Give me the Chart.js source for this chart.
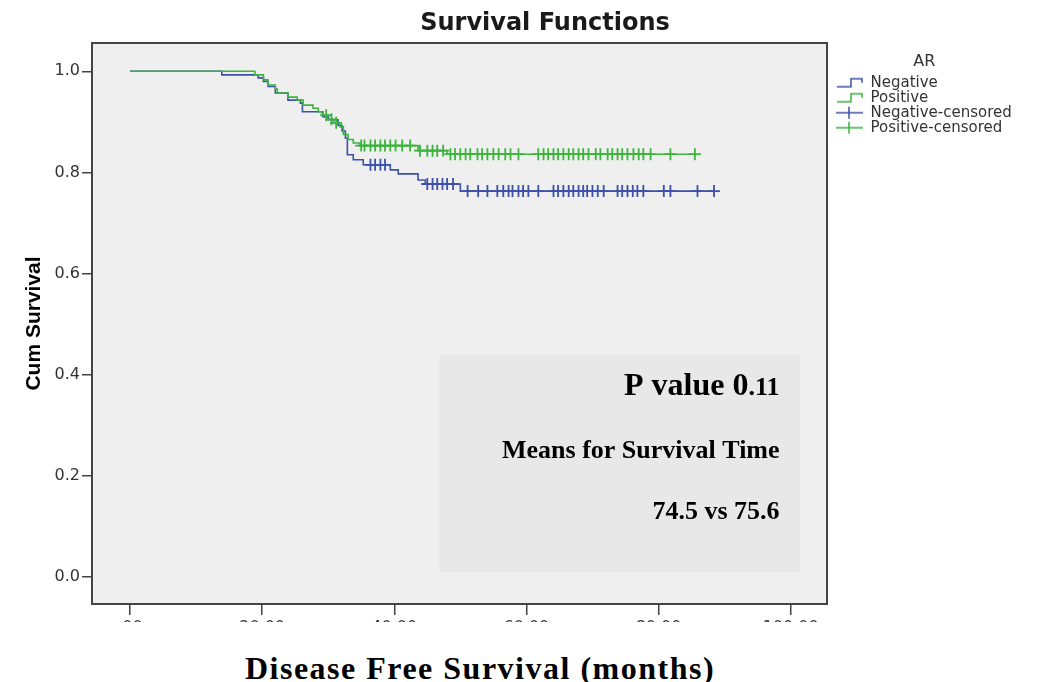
<!DOCTYPE html>
<html>
<head>
<meta charset="utf-8">
<title>Survival Functions</title>
<script src="https://cdn.jsdelivr.net/npm/chart.js@4.4.1/dist/chart.umd.min.js"></script>
<style>
  body { margin: 0; background: #fff; }
  #page { position: relative; width: 1041px; height: 682px; overflow: hidden; }
  #clip { position: absolute; left: 0; top: 0; width: 1041px; height: 622px; overflow: hidden; }
  #survivalChart { display: block; }
  #xtitle {
    position: absolute; left: 0; top: 650px; width: 960px;
    text-align: center; line-height: 34px; color: #000;
    font: bold 32px 'Liberation Serif', 'Times New Roman', serif;
    letter-spacing: 1.5px;
  }
</style>
</head>
<body>
<div id="page">
  <div id="clip"><canvas id="survivalChart" width="1041" height="682"></canvas></div>
  <div id="xtitle">Disease Free Survival (months)</div>
</div>
<script>
// Kaplan-Meier steps (time in months, cumulative survival)
const negTime = [0, 13.9, 19.4, 20.2, 20.9, 22.0, 23.9, 25.8, 26.1, 29.2, 30.0, 31.5, 32.1, 32.6, 32.9, 33.8, 35.3, 39.4, 40.6, 43.6, 44.7, 50.0, 88.4];
const negSurv = [1.0, 0.993, 0.987, 0.980, 0.970, 0.957, 0.943, 0.937, 0.920, 0.910, 0.904, 0.893, 0.882, 0.868, 0.835, 0.825, 0.815, 0.805, 0.797, 0.785, 0.777, 0.763, 0.763];

const posTime = [0, 18.9, 20.2, 20.9, 22.0, 22.3, 23.9, 25.3, 26.2, 27.7, 28.5, 29.1, 29.8, 30.8, 31.8, 32.3, 33.0, 33.8, 34.8, 43.6, 48.0, 85.5];
const posSurv = [1.0, 0.993, 0.983, 0.973, 0.965, 0.957, 0.949, 0.943, 0.933, 0.927, 0.920, 0.913, 0.905, 0.898, 0.890, 0.875, 0.865, 0.858, 0.853, 0.843, 0.836, 0.836];

// censored cases (times of the + marks)
const negCensTime = [36.4, 37.1, 37.9, 38.6, 45.0, 45.8, 46.5, 47.3, 48.0, 48.9, 51.1, 52.7, 54.1, 55.6, 56.5, 57.3, 57.9, 58.8, 59.5, 60.3, 61.8,
  64.1, 64.8, 65.6, 66.4, 67.1, 67.9, 68.6, 69.2, 70.0, 70.8, 71.7, 73.8, 74.5, 75.3, 76.1, 76.8, 77.7, 80.8, 81.8, 85.9, 88.4];
const posCensTime = [29.7, 30.5, 31.2, 35.0, 35.5, 36.4, 37.1, 37.9, 38.6, 39.4, 40.2, 41.2, 42.4, 43.9, 45.0, 45.8, 46.5, 47.4, 48.5, 49.2,
  50.0, 50.8, 51.5, 52.6, 53.3, 54.1, 55.0, 55.8, 56.8, 57.6, 58.8, 61.8, 62.6, 63.3, 64.1, 64.8, 65.6, 66.4, 67.1, 67.9, 68.6, 69.4,
  70.5, 71.2, 72.3, 73.0, 73.8, 74.5, 75.3, 76.2, 77.0, 77.7, 78.8, 81.8, 85.5];

const seriesNames = ['Negative', 'Positive', 'Negative-censored', 'Positive-censored'];
const legendTitle = 'AR';
const xTicks = [0, 20, 40, 60, 80, 100];
const xTickLabels = ['.00', '20.00', '40.00', '60.00', '80.00', '100.00'];
const yTicks = [0, 0.2, 0.4, 0.6, 0.8, 1.0];
const yTickLabels = ['0.0', '0.2', '0.4', '0.6', '0.8', '1.0'];
const chartTitle = 'Survival Functions';
const yTitle = 'Cum Survival';
const pLabel = 'P value 0';
const pDigits = '.11';
const meansLabel = 'Means for Survival Time';
const meansValues = '74.5 vs 75.6';

// note box corners in axis units
const noteBox = { xMin: 46.8, xMax: 101.5, yMin: 0.009, yMax: 0.439 };

const blue = '#3c51a7';
const green = '#3cb43c';
const legendFont = "'DejaVu Sans', sans-serif";
const legendSize = 15;
const iconWidth = 36;
const plotRight = 827;

function curvePoints(times, surv) {
    return times.map((t, i) => ({ x: t, y: surv[i] }));
}

// a censor mark sits on the curve level at its time
function levelAt(times, surv, t) {
    let s = surv[0];
    for (let i = 0; i < times.length; i++) {
        if (times[i] <= t) s = surv[i];
    }
    return s;
}

function censorPoints(cens, times, surv) {
    return cens.map(t => ({ x: t, y: levelAt(times, surv, t) }));
}

function stepIcon(color) {
    const c = document.createElement('canvas');
    c.width = iconWidth; c.height = 14;
    const g = c.getContext('2d');
    g.strokeStyle = color; g.lineWidth = 1.5;
    g.beginPath();
    g.moveTo(10, 11); g.lineTo(24, 11); g.lineTo(24, 3); g.lineTo(35, 3); g.lineTo(35, 7);
    g.stroke();
    return c;
}

function censorIcon(color) {
    const c = document.createElement('canvas');
    c.width = iconWidth; c.height = 14;
    const g = c.getContext('2d');
    g.strokeStyle = color; g.lineWidth = 1.5;
    g.beginPath();
    g.moveTo(9, 7); g.lineTo(36, 7);
    g.moveTo(22, 1); g.lineTo(22, 13);
    g.stroke();
    return c;
}

const legendIcons = [stepIcon(blue), stepIcon(green), censorIcon(blue), censorIcon(green)];

// legend width, so the plot panel ends where it does in the picture
// (Chart.js adds 10px of its own to a right-hand legend box)
const measure = document.createElement('canvas').getContext('2d');
measure.font = legendSize + 'px ' + legendFont;
const longest = Math.max(...seriesNames.map(n => measure.measureText(n).width));
const legendWidth = iconWidth + legendSize / 2 + longest + 10;
const rightPad = Math.max(0, 1041 - plotRight - legendWidth);

// grey plot panel, note box, frame and the free texts
const plotFrame = {
    id: 'plotFrame',
    beforeDraw(chart) {
        const { ctx, chartArea: a, scales: { x, y } } = chart;
        ctx.save();
        ctx.fillStyle = '#fff';
        ctx.fillRect(0, 0, chart.width, chart.height);
        ctx.fillStyle = '#efefef';
        ctx.fillRect(a.left, a.top, a.width, a.height);
        const bx0 = x.getPixelForValue(noteBox.xMin), bx1 = x.getPixelForValue(noteBox.xMax);
        const by0 = y.getPixelForValue(noteBox.yMax), by1 = y.getPixelForValue(noteBox.yMin);
        ctx.fillStyle = '#e8e8e8';
        ctx.fillRect(bx0, by0, bx1 - bx0, by1 - by0);
        ctx.restore();
    },
    afterDraw(chart) {
        const { ctx, chartArea: a, scales: { x, y } } = chart;
        ctx.save();
        ctx.strokeStyle = '#444';
        ctx.lineWidth = 2;
        ctx.strokeRect(a.left, a.top, a.width, a.height);

        // title
        ctx.fillStyle = '#1a1a1a';
        ctx.font = "bold 24px 'DejaVu Sans', sans-serif";
        ctx.textAlign = 'center';
        ctx.textBaseline = 'middle';
        ctx.fillText(chartTitle, 545, 24);

        // note texts
        const right = x.getPixelForValue(noteBox.xMax) - 21;
        const top = y.getPixelForValue(noteBox.yMax);
        ctx.fillStyle = '#000';
        ctx.textAlign = 'right';
        ctx.textBaseline = 'alphabetic';
        ctx.font = "bold 26px 'Liberation Serif', 'Times New Roman', serif";
        const dw = ctx.measureText(pDigits).width;
        ctx.fillText(pDigits, right, top + 40);
        ctx.font = "bold 32px 'Liberation Serif', 'Times New Roman', serif";
        ctx.fillText(pLabel, right - dw, top + 40);
        ctx.font = "bold 26px 'Liberation Serif', 'Times New Roman', serif";
        ctx.fillText(meansLabel, right, top + 103);
        ctx.fillText(meansValues, right, top + 164);
        ctx.restore();
    }
};

const ctx = document.getElementById('survivalChart').getContext('2d');

const survivalChart = new Chart(ctx, {
    type: 'line',
    data: {
        datasets: [
            {
                label: seriesNames[0],
                data: curvePoints(negTime, negSurv),
                borderColor: blue, borderWidth: 1.6,
                stepped: 'before', pointRadius: 0, fill: false, order: 3
            },
            {
                label: seriesNames[1],
                data: curvePoints(posTime, posSurv),
                borderColor: green, borderWidth: 1.6,
                stepped: 'before', pointRadius: 0, fill: false, order: 2
            },
            {
                label: seriesNames[2],
                data: censorPoints(negCensTime, negTime, negSurv),
                showLine: false, pointStyle: 'cross', pointRadius: 6,
                pointBorderWidth: 1.8, pointBorderColor: blue, borderColor: blue, order: 1
            },
            {
                label: seriesNames[3],
                data: censorPoints(posCensTime, posTime, posSurv),
                showLine: false, pointStyle: 'cross', pointRadius: 6,
                pointBorderWidth: 1.8, pointBorderColor: green, borderColor: green, order: 0
            }
        ]
    },
    options: {
        responsive: false,
        animation: false,
        events: [],
        layout: { padding: { top: 43, left: 0, right: rightPad, bottom: 0 } },
        plugins: {
            tooltip: { enabled: false },
            legend: {
                position: 'right',
                align: 'start',
                title: {
                    display: true, text: legendTitle, color: '#333',
                    font: { family: legendFont, size: 16 },
                    padding: { top: 11, bottom: 2 }
                },
                labels: {
                    usePointStyle: true,
                    pointStyleWidth: iconWidth,
                    boxHeight: legendSize,
                    padding: 0,
                    color: '#222',
                    font: { family: legendFont, size: legendSize },
                    generateLabels: () => seriesNames.map((name, i) => ({
                        text: name,
                        pointStyle: legendIcons[i],
                        datasetIndex: i,
                        hidden: false,
                        lineWidth: 0,
                        fillStyle: 'rgba(0,0,0,0)',
                        strokeStyle: 'rgba(0,0,0,0)'
                    }))
                }
            }
        },
        scales: {
            x: {
                type: 'linear',
                min: -5.75,
                max: 105.5,
                afterBuildTicks: s => { s.ticks = xTicks.map(v => ({ value: v })); },
                afterFit: s => { s.height = 78; },
                ticks: {
                    autoSkip: false, maxRotation: 0, padding: 3, color: '#333',
                    font: { family: "'DejaVu Sans', sans-serif", size: 16 },
                    callback: (v, i) => xTickLabels[i]
                },
                grid: { drawOnChartArea: false, drawTicks: true, tickLength: 11, color: '#444', lineWidth: 1.5 },
                border: { display: false }
            },
            y: {
                type: 'linear',
                min: -0.054,
                max: 1.056,
                afterBuildTicks: s => { s.ticks = yTicks.map(v => ({ value: v })); },
                afterFit: s => { s.width = 92; },
                ticks: {
                    autoSkip: false, padding: 2, color: '#333',
                    font: { family: "'DejaVu Sans', sans-serif", size: 16 },
                    callback: (v, i) => yTickLabels[i]
                },
                grid: { drawOnChartArea: false, drawTicks: true, tickLength: 10, color: '#444', lineWidth: 1.5 },
                border: { display: false },
                title: {
                    display: true, text: yTitle, color: '#000',
                    font: { family: "'Liberation Sans', Arial, sans-serif", size: 21, weight: 'bold' },
                    padding: { top: 22, bottom: 0 }
                }
            }
        }
    },
    plugins: [plotFrame]
});
</script>
</body>
</html>
